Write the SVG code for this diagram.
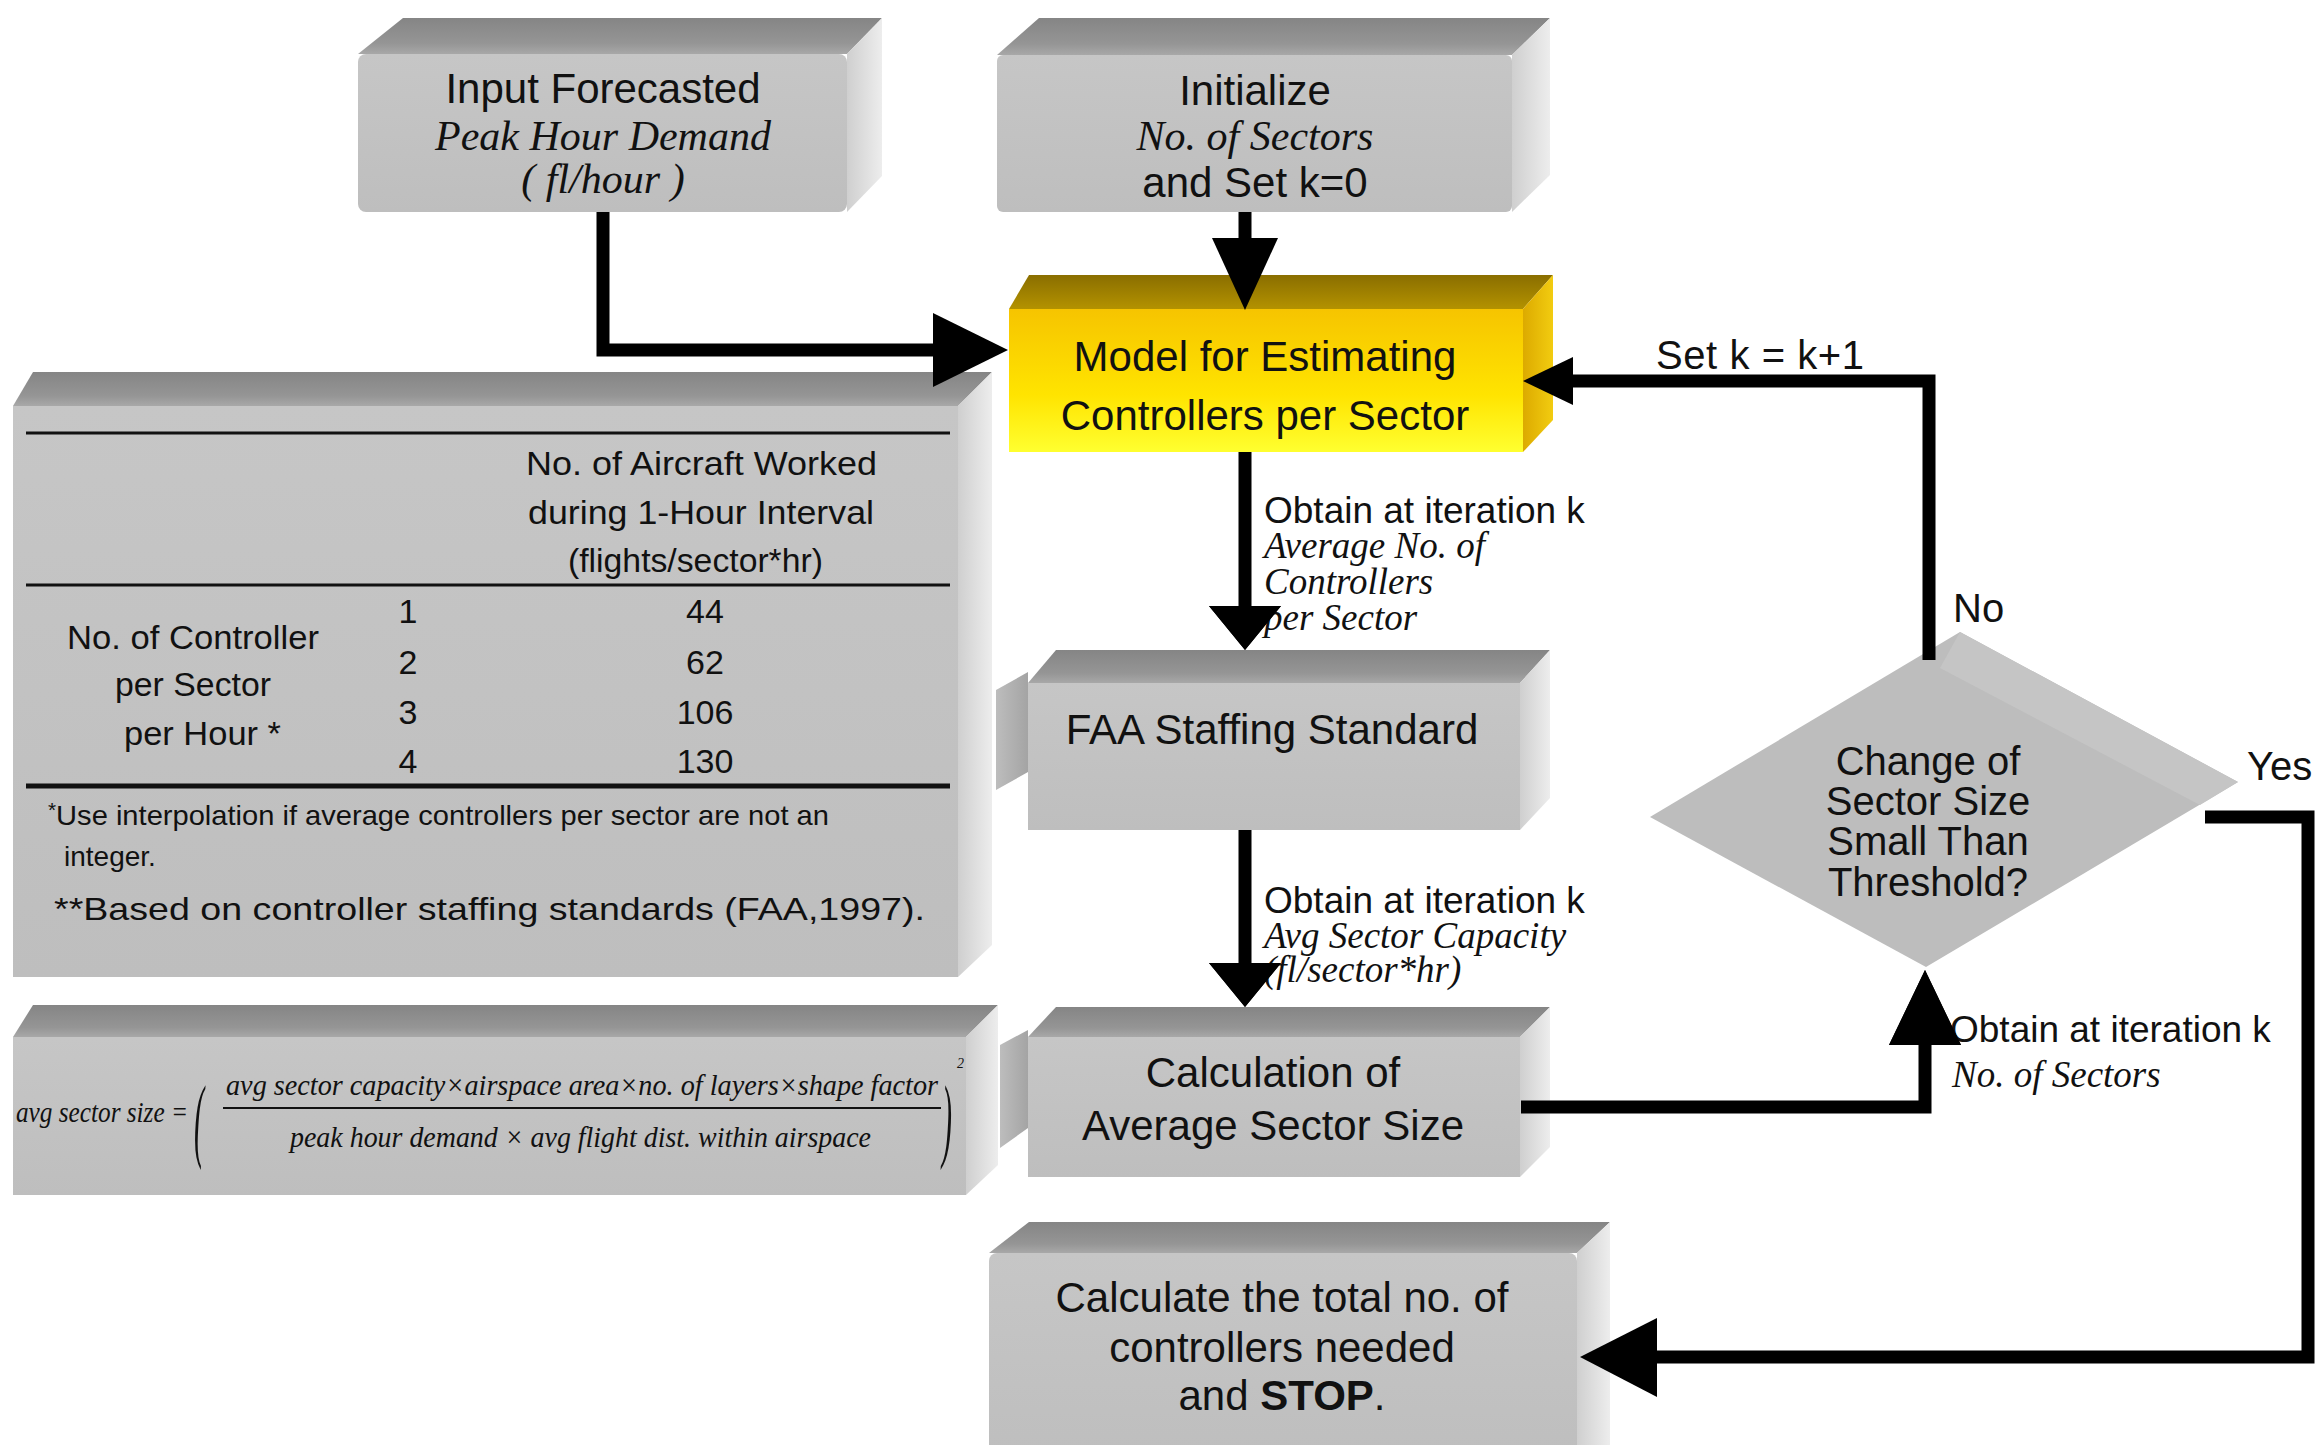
<svg xmlns="http://www.w3.org/2000/svg" width="2315" height="1445" viewBox="0 0 2315 1445">
<defs>
<linearGradient id="gTop" x1="0" y1="0" x2="0" y2="1"><stop offset="0" stop-color="#858585"/><stop offset="0.7" stop-color="#959595"/><stop offset="1" stop-color="#a8a8a8"/></linearGradient>
<linearGradient id="gFront" x1="0" y1="0" x2="0" y2="1"><stop offset="0" stop-color="#c6c6c6"/><stop offset="1" stop-color="#bebebe"/></linearGradient>
<linearGradient id="gSide" x1="0" y1="0" x2="1" y2="0"><stop offset="0" stop-color="#cfcfcf"/><stop offset="1" stop-color="#ededed"/></linearGradient>
<linearGradient id="gWedge" x1="0" y1="0" x2="1" y2="0"><stop offset="0" stop-color="#bdbdbd"/><stop offset="1" stop-color="#a4a4a4"/></linearGradient>
<linearGradient id="yFront" x1="0" y1="0" x2="0" y2="1"><stop offset="0" stop-color="#f6c400"/><stop offset="0.6" stop-color="#ffe400"/><stop offset="1" stop-color="#ffff30"/></linearGradient>
<linearGradient id="yTop" x1="0" y1="0" x2="0" y2="1"><stop offset="0" stop-color="#8a6e00"/><stop offset="1" stop-color="#b39200"/></linearGradient>
<linearGradient id="ySide" x1="0" y1="0" x2="1" y2="0"><stop offset="0" stop-color="#dcaa00"/><stop offset="1" stop-color="#f2cc10"/></linearGradient>
</defs>
<style>
.top{fill:url(#gTop)}
.front{fill:url(#gFront)}
.side{fill:url(#gSide)}
.wedge{fill:url(#gWedge)}
.t{font-family:"Liberation Sans",Arial,sans-serif;fill:#111}
.c{text-anchor:middle}
.i{font-family:"Liberation Serif","Times New Roman",serif;font-style:italic;fill:#111}
.b42{font-size:42px}
.lbl{font-size:37px}
.il{font-size:37px}
.tb{font-size:34px}
.fx{font-size:30px}
.line{fill:none;stroke:#000;stroke-width:13;stroke-linejoin:miter}
.head{fill:#000}
</style>
<rect width="2315" height="1445" fill="#fff"/>

<g id="node-input">
<polygon class="top" points="358,54 403,18 882,18 847,54"/>
<polygon class="side" points="847,54 882,18 882,176 847,212"/>
<rect class="front" x="358" y="54" width="489" height="158" rx="8"/>
<text class="t c b42" x="603" y="103">Input Forecasted</text>
<text class="i c b42" x="603" y="150">Peak Hour Demand</text>
<text class="i c b42" x="603" y="193">( fl/hour )</text>
</g>

<g id="node-init">
<polygon class="top" points="997,55 1039,18 1550,18 1512,55"/>
<polygon class="side" points="1512,55 1550,18 1550,175 1512,212"/>
<rect class="front" x="997" y="55" width="515" height="157" rx="6"/>
<text class="t c b42" x="1255" y="105">Initialize</text>
<text class="i c b42" x="1255" y="150">No. of Sectors</text>
<text class="t c b42" x="1255" y="197">and Set k=0</text>
</g>

<g id="node-model">
<polygon fill="url(#yTop)" points="1009,309 1029,275 1553,275 1523,309"/>
<polygon fill="url(#ySide)" points="1523,309 1553,275 1553,420 1523,452"/>
<rect fill="url(#yFront)" x="1009" y="309" width="514" height="143"/>
<text class="t c b42" x="1265" y="371">Model for Estimating</text>
<text class="t c b42" x="1265" y="430">Controllers per Sector</text>
</g>

<g id="node-table">
<polygon class="top" points="13,406 33,372 992,372 958,406"/>
<polygon class="side" points="958,406 992,372 992,945 958,977"/>
<rect class="front" x="13" y="406" width="945" height="571"/>
<line x1="26" y1="433" x2="950" y2="433" stroke="#111" stroke-width="3"/>
<line x1="26" y1="585" x2="950" y2="585" stroke="#111" stroke-width="3"/>
<line x1="26" y1="786" x2="950" y2="786" stroke="#111" stroke-width="5"/>
<text class="t tb" x="526" y="475" textLength="351" lengthAdjust="spacingAndGlyphs">No. of Aircraft  Worked</text>
<text class="t tb" x="528" y="524" textLength="346" lengthAdjust="spacingAndGlyphs">during  1-Hour  Interval</text>
<text class="t tb" x="568" y="572" textLength="255" lengthAdjust="spacingAndGlyphs">(flights/sector*hr)</text>
<text class="t tb" x="67" y="649" textLength="252" lengthAdjust="spacingAndGlyphs">No. of Controller</text>
<text class="t tb" x="115" y="696" textLength="156" lengthAdjust="spacingAndGlyphs">per Sector</text>
<text class="t tb" x="124" y="745" textLength="157" lengthAdjust="spacingAndGlyphs">per Hour *</text>
<text class="t tb c" x="408" y="623">1</text>
<text class="t tb c" x="408" y="674">2</text>
<text class="t tb c" x="408" y="724">3</text>
<text class="t tb c" x="408" y="773">4</text>
<text class="t tb c" x="705" y="623">44</text>
<text class="t tb c" x="705" y="674">62</text>
<text class="t tb c" x="705" y="724">106</text>
<text class="t tb c" x="705" y="773">130</text>
<text class="t" x="48" y="825" font-size="28" textLength="781" lengthAdjust="spacingAndGlyphs"><tspan font-size="20" dy="-8">*</tspan><tspan dy="8">Use interpolation if  average controllers per sector   are  not an</tspan></text>
<text class="t" x="64" y="866" font-size="28">integer.</text>
<text class="t" x="54" y="920" font-size="32" textLength="871" lengthAdjust="spacingAndGlyphs">**Based on controller staffing standards (FAA,1997).</text>
</g>

<g id="node-formula">
<polygon class="top" points="13,1037 33,1005 998,1005 966,1037"/>
<polygon class="side" points="966,1037 998,1005 998,1165 966,1195"/>
<rect class="front" x="13" y="1037" width="953" height="158"/>
<text class="i fx" x="16" y="1122" textLength="172" lengthAdjust="spacingAndGlyphs">avg  sector size =</text>
<text class="i" font-size="30" transform="translate(194,1150) scale(1,3.1)">(</text>
<text class="i fx" x="226" y="1095" textLength="712" lengthAdjust="spacingAndGlyphs">avg  sector capacity×airspace area×no. of  layers×shape factor</text>
<line x1="223" y1="1108" x2="941" y2="1108" stroke="#111" stroke-width="2"/>
<text class="i fx" x="290" y="1147" textLength="581" lengthAdjust="spacingAndGlyphs">peak hour demand  × avg flight dist. within airspace</text>
<text class="i" font-size="30" transform="translate(942,1150) scale(1,3.1)">)</text>
<text class="i" x="957" y="1068" font-size="14">2</text>
</g>

<g id="node-faa">
<polygon class="wedge" points="1028,672 996,690 996,790 1028,772"/>
<polygon class="top" points="1028,683 1056,650 1550,650 1520,683"/>
<polygon class="side" points="1520,683 1550,650 1550,798 1520,830"/>
<rect class="front" x="1028" y="683" width="492" height="147"/>
<text class="t c b42" x="1272" y="744">FAA Staffing Standard</text>
</g>

<g id="node-calc">
<polygon class="wedge" points="1028,1030 1000,1045 1000,1148 1028,1128"/>
<polygon class="top" points="1028,1037 1056,1007 1550,1007 1520,1037"/>
<polygon class="side" points="1520,1037 1550,1007 1550,1147 1520,1177"/>
<rect class="front" x="1028" y="1037" width="492" height="140"/>
<text class="t c b42" x="1273" y="1087">Calculation of</text>
<text class="t c b42" x="1273" y="1140">Average Sector Size</text>
</g>

<g id="node-final">
<polygon class="top" points="989,1253 1029,1222 1610,1222 1577,1253"/>
<polygon class="side" points="1577,1253 1610,1222 1610,1445 1577,1460"/>
<rect class="front" x="989" y="1253" width="588" height="210" rx="8"/>
<text class="t c b42" x="1282" y="1312">Calculate the total no. of</text>
<text class="t c b42" x="1282" y="1362">controllers needed</text>
<text class="t c b42" x="1282" y="1410">and <tspan font-weight="bold">STOP</tspan>.</text>
</g>

<g id="node-decision">
<polygon fill="#bdbdbd" points="1960,632 2238,782 1926,967 1650,817"/>
<polygon fill="#c5c5c5" points="1960,632 2238,782 2200,805 1940,668"/>
<text class="t c" font-size="40" x="1928" y="775">Change of</text>
<text class="t c" font-size="40" x="1928" y="815">Sector Size</text>
<text class="t c" font-size="40" x="1928" y="855">Small Than</text>
<text class="t c" font-size="40" x="1928" y="896">Threshold?</text>
</g>

<g id="connectors">
<path class="line" d="M603,212 V350 H940"/>
<polygon class="head" points="1008,350 933,313 933,387"/>
<path class="line" d="M1245,212 V245"/>
<polygon class="head" points="1245,310 1212,238 1278,238"/>
<path class="line" d="M1245,452 V612"/>
<polygon class="head" points="1245,650 1209,606 1281,606"/>
<path class="line" d="M1245,830 V968"/>
<polygon class="head" points="1245,1007 1209,963 1281,963"/>
<path class="line" d="M1521,1107 H1925 V1040"/>
<polygon class="head" points="1925,970 1889,1045 1961,1045"/>
<path class="line" d="M1929,660 V381 H1568"/>
<polygon class="head" points="1523,381 1573,357 1573,405"/>
<path class="line" d="M2205,817 H2308 V1357 H1650"/>
<polygon class="head" points="1580,1357 1657,1318 1657,1397"/>
</g>

<g id="labels">
<text class="t lbl" x="1264" y="523">Obtain at iteration k</text>
<text class="i il" x="1264" y="558">Average No. of</text>
<text class="i il" x="1264" y="594">Controllers</text>
<text class="i il" x="1264" y="630">per Sector</text>
<text class="t lbl" x="1264" y="913">Obtain at iteration k</text>
<text class="i il" x="1264" y="948">Avg Sector Capacity</text>
<text class="i il" x="1264" y="982">(fl/sector*hr)</text>
<text class="t lbl" x="1950" y="1042">Obtain at iteration k</text>
<text class="i il" x="1952" y="1087">No. of Sectors</text>
<text class="t" font-size="40" x="1656" y="369" textLength="208" lengthAdjust="spacing">Set k = k+1</text>
<text class="t" font-size="40" x="1953" y="622">No</text>
<text class="t" font-size="40" x="2247" y="780">Yes</text>
</g>
<g id="connector-heads-top">
<polygon class="head" points="1245,650 1209,606 1281,606"/>
<polygon class="head" points="1245,1007 1209,963 1281,963"/>
<polygon class="head" points="1925,970 1889,1045 1961,1045"/>
</g>
</svg>
